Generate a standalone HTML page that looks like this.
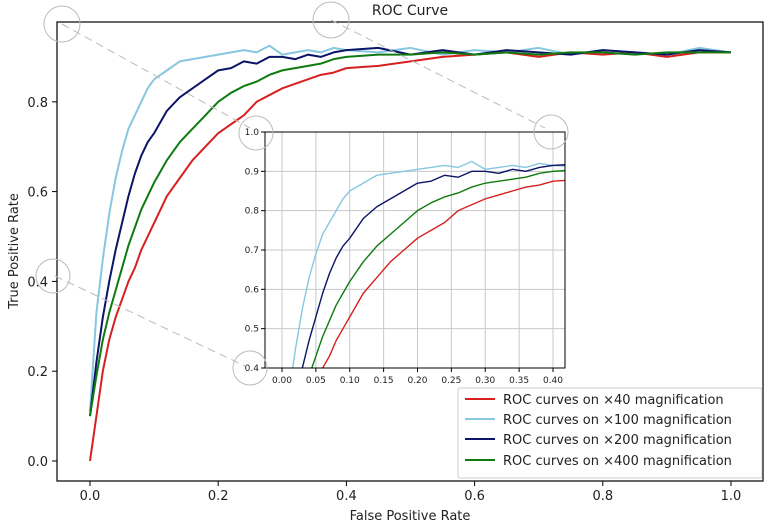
<!DOCTYPE html>
<html><head><meta charset="utf-8">
<style>
html,body{margin:0;padding:0;background:#fff;}
svg text{font-family:"DejaVu Sans","Liberation Sans",sans-serif;fill:#222;}
</style></head>
<body>
<svg id="chart" width="767" height="526" viewBox="0 0 767 526" xmlns="http://www.w3.org/2000/svg">
<defs>
<clipPath id="mainClip"><rect x="57" y="22" width="706" height="459"/></clipPath>
<clipPath id="insetClip"><rect x="265" y="132" width="300" height="236"/></clipPath>
</defs>
<text x="410" y="15" font-size="14" text-anchor="middle">ROC Curve</text>
<g id="main"></g>
<rect x="57" y="22" width="706" height="459" fill="none" stroke="#000" stroke-width="1.2"/>
<text x="410" y="520" font-size="13" text-anchor="middle">False Positive Rate</text>
<text transform="translate(18,251) rotate(-90)" font-size="13" text-anchor="middle">True Positive Rate</text>
<g id="inset"></g>
<g id="zoomMarks" stroke="#bbb" fill="none" stroke-width="1">
<circle cx="62" cy="24" r="18"/>
<circle cx="331" cy="20" r="18"/>
<circle cx="256" cy="133" r="17"/>
<circle cx="551" cy="132" r="17"/>
<circle cx="53" cy="276" r="17"/>
<circle cx="250" cy="368" r="17"/>
<line x1="62" y1="24" x2="250" y2="128" stroke-dasharray="8,5"/>
<line x1="331" y1="20" x2="545" y2="128" stroke-dasharray="8,5"/>
<line x1="55" y1="276" x2="245" y2="366" stroke-dasharray="8,5"/>
</g>
<g>
<rect x="458" y="388" width="304" height="90" fill="#fff" stroke="#ccc" rx="2"/>
<g><line x1="465" y1="399" x2="495" y2="399" stroke="#d62020" stroke-width="2"/><text x="503" y="404" font-size="13">ROC curves on ×40 magnification</text></g>
<g><line x1="465" y1="419" x2="495" y2="419" stroke="#87c7e0" stroke-width="2"/><text x="503" y="424" font-size="13">ROC curves on ×100 magnification</text></g>
<g><line x1="465" y1="439" x2="495" y2="439" stroke="#0b1466" stroke-width="2"/><text x="503" y="444" font-size="13">ROC curves on ×200 magnification</text></g>
<g><line x1="465" y1="460" x2="495" y2="460" stroke="#0f7a0f" stroke-width="2"/><text x="503" y="465" font-size="13">ROC curves on ×400 magnification</text></g>
</g>
</svg>
<script>
const fpr = [0,.01,.02,.03,.04,.05,.06,.07,.08,.09,.10,.12,.14,.16,.18,.20,.22,.24,.26,.28,.30,.32,.34,.36,.38,.40,.45,.50,.55,.60,.65,.70,.75,.80,.85,.90,.95,1.0];
const tprX40 = [.00,.10,.20,.27,.32,.36,.40,.43,.47,.50,.53,.59,.63,.67,.70,.73,.75,.77,.80,.815,.83,.84,.85,.86,.865,.875,.88,.89,.90,.905,.91,.90,.91,.905,.91,.90,.91,.91];
const tprX100 = [.11,.33,.45,.55,.63,.69,.74,.77,.80,.83,.85,.87,.89,.895,.90,.905,.91,.915,.91,.925,.905,.91,.915,.91,.92,.915,.91,.92,.905,.915,.91,.92,.905,.915,.91,.905,.92,.91];
const tprX200 = [.10,.22,.32,.40,.47,.53,.59,.64,.68,.71,.73,.78,.81,.83,.85,.87,.875,.89,.885,.90,.90,.895,.905,.90,.91,.915,.92,.905,.915,.905,.915,.91,.905,.915,.91,.905,.915,.91];
const tprX400 = [.10,.19,.27,.33,.38,.43,.48,.52,.56,.59,.62,.67,.71,.74,.77,.80,.82,.835,.845,.86,.87,.875,.88,.885,.895,.90,.905,.905,.91,.905,.91,.905,.91,.91,.905,.91,.91,.91];
const mainXTicks = [0,0.2,0.4,0.6,0.8,1.0];
const mainYTicks = [0,0.2,0.4,0.6,0.8];
const insetXTicks = [0,0.05,0.1,0.15,0.2,0.25,0.3,0.35,0.4];
const insetYTicks = [0.4,0.5,0.6,0.7,0.8,0.9,1.0];

const NS = "http://www.w3.org/2000/svg";
const series = [
  {name:'x40', data:tprX40, color:'#d62020'},
  {name:'x100', data:tprX100, color:'#87c7e0'},
  {name:'x200', data:tprX200, color:'#0b1466'},
  {name:'x400', data:tprX400, color:'#0f7a0f'}
];
function mk(tag, attrs, parent){const e=document.createElementNS(NS,tag);for(const k in attrs)e.setAttribute(k,attrs[k]);parent.appendChild(e);return e;}

// main axes
const mx = v => 90 + v*641;
const my = v => 461 - v*449;
const main = document.getElementById('main');
mainXTicks.forEach(t=>{
  mk('line',{x1:mx(t),y1:481,x2:mx(t),y2:486,stroke:'#000'},main);
  const tx=mk('text',{x:mx(t),y:500,'font-size':13,'text-anchor':'middle'},main);
  
  
  tx.textContent=t.toFixed(1);
});
mainYTicks.forEach(t=>{
  mk('line',{x1:52,y1:my(t),x2:57,y2:my(t),stroke:'#000'},main);
  const tx=mk('text',{x:48,y:my(t)+5,'font-size':13,'text-anchor':'end'},main);
  
  
  tx.textContent=t.toFixed(1);
});
const mg = mk('g',{'clip-path':'url(#mainClip)'},main);
series.forEach(s=>{
  const p=mk('polyline',{points:fpr.map((x,i)=>mx(x)+','+my(s.data[i])).join(' '),fill:'none',stroke:s.color,'stroke-width':2,'stroke-linejoin':'round'},mg);
  
  
});

// inset axes
const ix = v => 282 + v*(553-282)/0.4;
const iy = v => 368 - (v-0.4)*(236/0.6);
const inset = document.getElementById('inset');
const bg = mk('rect',{x:265,y:132,width:300,height:236,fill:'#fff'},inset);


insetXTicks.forEach(t=>{
  mk('line',{x1:ix(t),y1:132,x2:ix(t),y2:368,stroke:'#c8c8c8','stroke-width':1},inset);
  mk('line',{x1:ix(t),y1:368,x2:ix(t),y2:372,stroke:'#000'},inset);
  const tx=mk('text',{x:ix(t),y:383,'font-size':9,'text-anchor':'middle'},inset);
  
  
  tx.textContent=t.toFixed(2);
});
insetYTicks.forEach(t=>{
  mk('line',{x1:265,y1:iy(t),x2:565,y2:iy(t),stroke:'#c8c8c8','stroke-width':1},inset);
  mk('line',{x1:261,y1:iy(t),x2:265,y2:iy(t),stroke:'#000'},inset);
  const tx=mk('text',{x:259,y:iy(t)+3,'font-size':9,'text-anchor':'end'},inset);
  
  
  tx.textContent=t.toFixed(1);
});
const ig = mk('g',{'clip-path':'url(#insetClip)'},inset);
series.forEach(s=>{
  const p=mk('polyline',{points:fpr.map((x,i)=>ix(x)+','+iy(s.data[i])).join(' '),fill:'none',stroke:s.color,'stroke-width':1.4,'stroke-linejoin':'round'},ig);
  
  
});
const fr = mk('rect',{x:265,y:132,width:300,height:236,fill:'none',stroke:'#000','stroke-width':1},inset);


</script>
</body></html>
